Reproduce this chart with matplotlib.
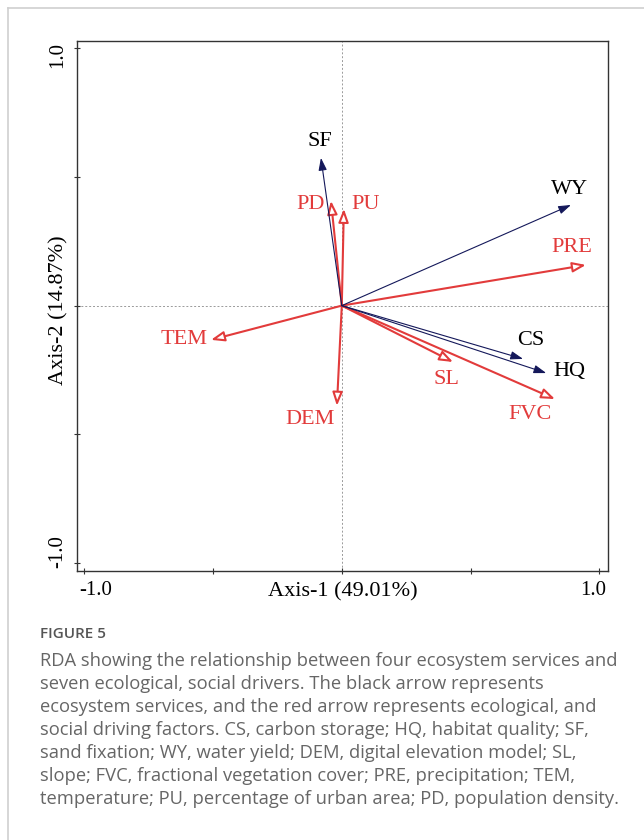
import matplotlib

matplotlib.use("Agg")

import matplotlib.pyplot as plt
from matplotlib.lines import Line2D
from matplotlib.transforms import ScaledTranslation

# RDA loadings (Axis-1, Axis-2)
services = ["SF", "WY", "CS", "HQ"]
services_x = [-0.081, 0.890, 0.704, 0.794]
services_y = [0.574, 0.391, -0.207, -0.262]

drivers = ["PD", "PU", "PRE", "SL", "FVC", "TEM", "DEM"]
drivers_x = [-0.042, 0.008, 0.948, 0.432, 0.828, -0.508, -0.019]
drivers_y = [0.407, 0.376, 0.158, -0.219, -0.363, -0.133, -0.389]

x_title = "Axis-1 (49.01%)"
y_title = "Axis-2 (14.87%)"
tick_vals = [-1.0, -0.5, 0.0, 0.5, 1.0]
tick_text = ["-1.0", "", "", "", "1.0"]

caption_head = "FIGURE 5"
caption_lines = [
    "RDA showing the relationship between four ecosystem services and",
    "seven ecological, social drivers. The black arrow represents",
    "ecosystem services, and the red arrow represents ecological, and",
    "social driving factors. CS, carbon storage; HQ, habitat quality; SF,",
    "sand fixation; WY, water yield; DEM, digital elevation model; SL,",
    "slope; FVC, fractional vegetation cover; PRE, precipitation; TEM,",
    "temperature; PU, percentage of urban area; PD, population density.",
]

# label offsets from arrow tips, in pixels
label_offset = {
    "SF": (-1, 16), "WY": (-1, 15), "CS": (8, 18), "HQ": (23, 2),
    "PD": (-20, -4), "PU": (22, 4), "PRE": (-14, 17), "SL": (-7, -17),
    "FVC": (-25, -15), "TEM": (-27, 0), "DEM": (-27, -14),
}

red = "#e23b3b"
navy = "#14185a"
serif = "Liberation Serif"

fig = plt.figure(figsize=(6.44, 8.4), dpi=100)
ax = fig.add_axes([0.1191, 0.3202, 0.8245, 0.6310])
ax.set_xlim(-1.0295, 1.0326)
ax.set_ylim(-1.031, 1.028)

ax.axhline(0, color="#9a9a9a", lw=0.7, ls=(0, (2, 2)), zorder=1)
ax.axvline(0, color="#9a9a9a", lw=0.7, ls=(0, (2, 2)), zorder=1)

for name, x, y in zip(drivers, drivers_x, drivers_y):
    ax.annotate("", xy=(x, y), xytext=(0, 0),
                arrowprops=dict(arrowstyle="-|>,head_length=0.8,head_width=0.3",
                                fc="white", ec=red, lw=1.5, mutation_scale=10,
                                shrinkA=0, shrinkB=0), zorder=3)
    ax.annotate(name, xy=(x, y), xytext=label_offset[name],
                textcoords="offset pixels", ha="center", va="center",
                color=red, fontsize=16, family=serif)

for name, x, y in zip(services, services_x, services_y):
    ax.annotate("", xy=(x, y), xytext=(0, 0),
                arrowprops=dict(arrowstyle="-|>,head_length=0.75,head_width=0.25",
                                fc=navy, ec=navy, lw=0.8, mutation_scale=10,
                                shrinkA=0, shrinkB=0), zorder=4)
    ax.annotate(name, xy=(x, y), xytext=label_offset[name],
                textcoords="offset pixels", ha="center", va="center",
                color="black", fontsize=16, family=serif)

ax.set_xticks(tick_vals)
ax.set_xticklabels(tick_text, family=serif, fontsize=15)
ax.set_yticks(tick_vals)
ax.set_yticklabels(tick_text, family=serif, fontsize=15, rotation=90, va="center")
ax.tick_params(direction="inout", length=4, width=0.8, color="#333333", pad=5)
for s in ax.spines.values():
    s.set_color("#333333")
    s.set_linewidth(1.0)

# nudge the end labels the way the original sits them
def nudge(label, dx, dy):
    label.set_transform(label.get_transform()
                        + ScaledTranslation(dx / 100, dy / 100, fig.dpi_scale_trans))

xl = ax.get_xticklabels()
nudge(xl[0], 11, 0)
nudge(xl[-1], -6, 0)
yl = ax.get_yticklabels()
nudge(yl[0], 0, 11)
nudge(yl[-1], 0, -7)

ax.text(0.5015, -0.0396, x_title, transform=ax.transAxes, ha="center", va="center",
        family=serif, fontsize=16)
ax.text(-0.0333, 0.4915, y_title, transform=ax.transAxes, ha="center", va="center",
        rotation=90, family=serif, fontsize=16)

# page frame
fig.add_artist(Line2D([8 / 644, 1], [1 - 8 / 840, 1 - 8 / 840], color="#cfcfcf", lw=1.2))
fig.add_artist(Line2D([8 / 644, 8 / 644], [0, 1 - 8 / 840], color="#cfcfcf", lw=1.2))

fig.text(40 / 644, 1 - 634 / 840, caption_head, family="Open Sans", fontweight="semibold",
         fontsize=11, color="#555555", va="center")
for i, line in enumerate(caption_lines):
    fig.text(40 / 644, 1 - (661 + 23 * i) / 840, line, family="Open Sans",
             fontsize=13.2, color="#666666", va="center")

plt.savefig("out.png", dpi=100)
